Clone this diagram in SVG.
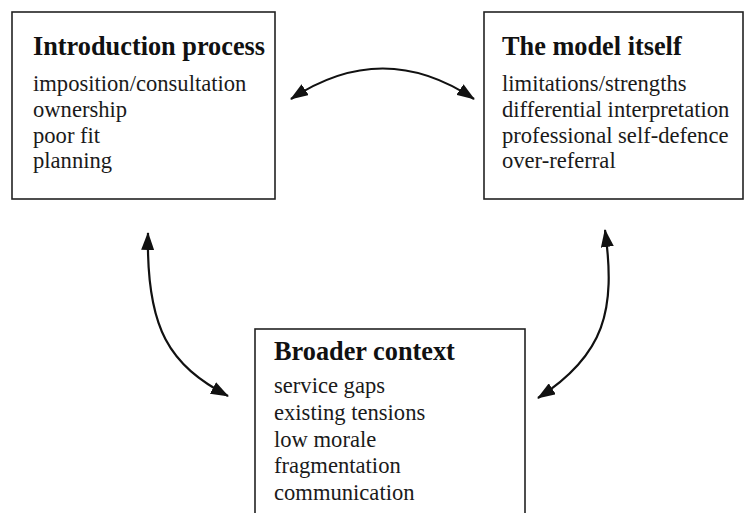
<svg xmlns="http://www.w3.org/2000/svg" width="745" height="513" viewBox="0 0 745 513">
  <style>
    .box { fill: #ffffff; stroke: #222222; stroke-width: 1.6; }
    .title { font-family: "Liberation Serif", "Times New Roman", serif; font-weight: bold; font-size: 26.3px; fill: #111111; }
    .item { font-family: "Liberation Serif", "Times New Roman", serif; font-size: 22.6px; fill: #1a1a1a; }
    .link { fill: none; stroke: #111111; stroke-width: 2.2; marker-start: url(#head); marker-end: url(#head); }
  </style>
  <defs>
    <marker id="head" viewBox="0 0 18 13" refX="17" refY="6.5" markerWidth="18" markerHeight="13" markerUnits="userSpaceOnUse" orient="auto-start-reverse">
      <path d="M0,0 L18,6.5 L0,13 Z" fill="#111111"/>
    </marker>
  </defs>
  <rect width="745" height="513" fill="#ffffff"/>

  <g id="introduction-process">
    <rect class="box" x="12" y="12" width="263" height="187"/>
    <text class="title" x="33" y="55">Introduction process</text>
    <text class="item" x="33" y="91">imposition/consultation</text>
    <text class="item" x="33" y="117">ownership</text>
    <text class="item" x="33" y="142.5">poor fit</text>
    <text class="item" x="33" y="168">planning</text>
  </g>

  <g id="model-itself">
    <rect class="box" x="484" y="12" width="259" height="187"/>
    <text class="title" x="502" y="55">The model itself</text>
    <text class="item" x="502" y="91">limitations/strengths</text>
    <text class="item" x="502" y="117">differential interpretation</text>
    <text class="item" x="502" y="142.5">professional self-defence</text>
    <text class="item" x="502" y="168">over-referral</text>
  </g>

  <g id="broader-context">
    <rect class="box" x="255" y="329" width="270" height="200"/>
    <text class="title" x="274" y="360">Broader context</text>
    <text class="item" x="274" y="393">service gaps</text>
    <text class="item" x="274" y="420">existing tensions</text>
    <text class="item" x="274" y="447">low morale</text>
    <text class="item" x="274" y="473">fragmentation</text>
    <text class="item" x="274" y="500">communication</text>
  </g>

  <g id="connectors">
    <path class="link" d="M291,99 Q383,38 474,99"/>
    <path class="link" d="M148,233 C146,330 170,365 228,396"/>
    <path class="link" d="M605,230 C616,310 605,355 538,398"/>
  </g>
</svg>
